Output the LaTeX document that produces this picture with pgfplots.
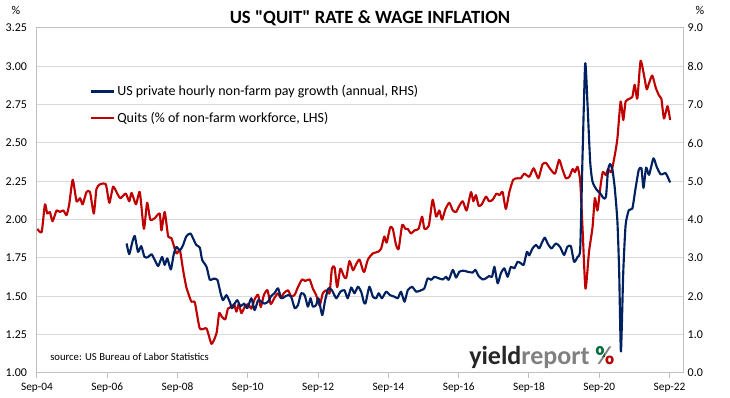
\documentclass[border=0pt]{standalone}
\usepackage{pgfplots}
\pgfplotsset{compat=1.18}
\usepackage{fontspec}
\setmainfont{Carlito}
\newfontfamily\titlefont{Carlito}[Ligatures=TeXOff]
\definecolor{qred}{RGB}{192,0,0}
\definecolor{wblue}{RGB}{0,32,96}
\definecolor{gridc}{RGB}{217,217,217}
\definecolor{axc}{RGB}{191,191,191}
\definecolor{logoblk}{RGB}{38,38,38}
\definecolor{logogray}{RGB}{128,128,128}
\definecolor{logogreen}{RGB}{0,112,60}
\begin{document}
\begin{tikzpicture}[x=1pt,y=1pt]
\path[use as bounding box] (0,0) rectangle (547.5,298.5);
\pgfplotsset{
  base/.style={scale only axis, width=484.5pt, height=258.75pt,
    at={(27.75pt,18.75pt)}, anchor=south west, xmin=0, xmax=220.6,
    /pgf/number format/assume math mode=true,
    ticklabel style={font=\fontsize{9}{10}\selectfont, text=black},
    axis line style={axc, line width=0.75pt}},
}
\begin{axis}[base,
  ymin=1, ymax=3.25,
  ytick={1,1.25,1.5,1.75,2,2.25,2.5,2.75,3,3.25},
  yticklabel style={/pgf/number format/fixed,/pgf/number format/fixed zerofill,/pgf/number format/precision=2},
  ymajorgrids, major grid style={gridc, line width=0.75pt},
  xtick={0,24,48,72,96,120,144,168,192,216},
  xticklabels={Sep-04,Sep-06,Sep-08,Sep-10,Sep-12,Sep-14,Sep-16,Sep-18,Sep-20,Sep-22},
  xtick pos=bottom, ytick pos=left, tick align=outside,
  ytick style={draw=none}, xtick style={axc, line width=0.75pt}, major tick length=4pt,
  xticklabel style={font=\fontsize{8.5}{10}\selectfont},
]
\addplot[qred, line width=1.6pt, line join=round, smooth, tension=0.35] coordinates {
(0.1,1.94)(1.6,1.92)(2.7,2.10)(3.5,2.04)(4.4,2.05)(5.3,1.99)(6.7,2.06)(7.8,2.05)(9.0,2.06)(10.1,2.03)
(11.0,2.10)(12.2,2.26)(13.5,2.12)(14.7,2.14)(15.6,2.10)(16.9,2.18)(18.1,2.18)(19.4,2.04)(20.3,2.20)
(21.5,2.23)(23.5,2.23)(24.7,2.11)(26.0,2.215)(27.4,2.17)(28.5,2.14)(30.3,2.17)(31.5,2.12)(32.3,2.175)
(33.8,2.10)(35.1,2.18)(36.5,1.94)(37.6,2.11)(38.7,2.00)(40.2,2.01)(41.9,2.04)(42.5,1.93)(43.6,2.05)
(44.8,1.89)(45.9,1.88)(47.6,1.78)(48.8,1.80)(49.9,1.67)(51.0,1.56)(52.7,1.465)(53.9,1.46)(55.6,1.29)
(57.9,1.29)(59.6,1.19)(61.3,1.26)(62.2,1.39)(63.0,1.37)(64.3,1.35)(65.2,1.42)(66.4,1.43)(67.3,1.45)
(68.1,1.40)(68.9,1.45)(69.8,1.39)(70.9,1.43)(72.1,1.45)(73.2,1.42)(74.3,1.48)(75.5,1.51)(76.4,1.43)
(77.5,1.51)(78.7,1.54)(79.8,1.45)(81.1,1.49)(82.3,1.52)(83.2,1.49)(84.3,1.52)(85.7,1.54)(86.8,1.50)
(88.0,1.51)(89.1,1.56)(90.5,1.61)(91.6,1.60)(93.1,1.61)(94.2,1.55)(95.3,1.51)(96.5,1.44)(97.6,1.52)
(98.8,1.54)(99.9,1.52)(100.7,1.68)(101.6,1.69)(102.5,1.56)(103.6,1.68)(104.8,1.63)(105.6,1.62)
(106.7,1.73)(107.9,1.67)(109.0,1.71)(110.1,1.74)(111.3,1.67)(111.8,1.66)(113.0,1.74)(114.7,1.78)
(116.4,1.79)(117.5,1.81)(118.6,1.89)(119.4,1.85)(120.6,1.95)(121.5,1.94)(122.6,1.835)(123.5,1.81)
(124.7,1.965)(125.8,1.94)(126.6,1.94)(127.7,1.91)(128.9,1.93)(130.3,1.94)(131.5,2.02)(132.3,1.94)
(133.8,1.96)(135.1,2.13)(136.3,2.02)(137.4,2.06)(138.3,2.00)(139.5,2.07)(140.8,2.11)(142.0,2.06)
(143.1,2.05)(144.2,2.09)(145.4,2.12)(146.7,2.06)(148.2,2.18)(149.0,2.12)(149.9,2.16)(150.8,2.09)
(151.9,2.10)(153.3,2.15)(154.4,2.12)(155.6,2.13)(156.9,2.17)(157.9,2.16)(159.0,2.18)(160.1,2.07)
(161.3,2.18)(162.6,2.26)(164.1,2.27)(165.2,2.27)(166.4,2.30)(168.1,2.28)(169.6,2.335)(171.2,2.27)
(172.6,2.36)(173.8,2.37)(175.3,2.33)(176.9,2.30)(178.3,2.39)(179.4,2.33)(180.6,2.27)(181.8,2.28)
(182.9,2.33)(183.7,2.31)(184.6,2.345)(185.5,2.25)(186.3,1.94)(187.3,1.55)(188.5,1.79)(189.7,1.95)
(190.5,2.14)(191.4,2.06)(192.3,2.20)(193.2,2.31)(194.3,2.29)(195.0,2.33)(196.1,2.31)(197.3,2.42)
(198.2,2.53)(199.3,2.77)(200.2,2.65)(201.0,2.77)(202.5,2.79)(203.3,2.80)(204.1,2.88)(205.0,2.79)
(206.1,3.035)(207.3,2.94)(208.2,2.85)(209.0,2.89)(210.1,2.94)(211.3,2.86)(212.4,2.81)(213.2,2.79)
(214.1,2.66)(215.3,2.74)(216.2,2.65)
};
\end{axis}
\begin{axis}[base,
  ymin=0, ymax=9, axis y line*=right, axis x line=none,
  ytick={0,1,2,3,4,5,6,7,8,9},
  yticklabel style={/pgf/number format/fixed,/pgf/number format/fixed zerofill,/pgf/number format/precision=1},
  ytick style={draw=none},
  legend style={at={(0.075,0.85)}, anchor=north west, draw=none, fill=none,
    font=\fontsize{10.5}{12}\selectfont, row sep=7pt},
  legend cell align=left,
]
\addplot[wblue, line width=1.6pt, line join=round, smooth, tension=0.35] coordinates {
(30.6,3.38)(31.5,3.10)(32.6,3.43)(33.4,3.57)(34.5,3.16)(35.6,3.31)(36.7,3.03)(37.9,3.02)(39.1,3.10)
(40.2,2.95)(41.4,2.79)(42.7,3.03)(43.6,2.82)(44.5,2.99)(45.7,2.70)(46.7,3.10)(47.6,3.29)(48.8,3.20)
(49.9,3.34)(51.0,3.57)(52.4,3.64)(53.3,3.51)(54.4,3.34)(55.6,3.27)(56.4,2.95)(57.9,2.77)(59.0,2.43)
(60.2,2.46)(61.6,2.43)(62.7,2.08)(63.5,1.90)(64.7,2.03)(65.8,1.86)(66.6,1.69)(67.5,1.81)(68.4,1.90)
(69.5,1.74)(70.7,1.81)(71.8,1.69)(73.2,1.95)(74.3,1.64)(75.5,1.90)(76.6,1.86)(77.7,1.81)(78.9,1.86)
(80.0,2.01)(81.1,2.08)(82.3,2.21)(83.4,1.95)(84.6,1.99)(85.7,2.03)(86.8,1.99)(88.0,1.69)(89.1,1.77)
(90.2,2.08)(91.4,2.03)(92.5,1.73)(93.4,1.95)(94.2,1.73)(95.3,1.77)(96.1,1.95)(97.4,1.51)(98.4,1.90)
(99.5,2.21)(100.7,2.16)(102.2,1.95)(103.6,2.12)(105.0,2.16)(106.1,1.95)(107.3,2.23)(108.4,2.08)
(109.6,2.25)(110.7,2.12)(111.6,1.85)(112.2,1.82)(113.5,2.25)(114.7,1.99)(115.8,1.95)(116.7,2.08)
(117.8,1.95)(119.2,2.12)(120.6,2.03)(122.1,1.99)(123.2,1.95)(124.3,2.12)(125.5,1.86)(126.6,2.16)
(128.1,2.25)(129.5,2.12)(131.2,2.16)(132.3,2.21)(133.4,2.47)(134.6,2.43)(135.7,2.51)(137.2,2.47)
(138.6,2.44)(139.7,2.51)(140.6,2.43)(142.0,2.69)(143.1,2.49)(144.2,2.64)(145.6,2.67)(147.1,2.64)
(148.8,2.62)(149.7,2.69)(150.8,2.53)(152.2,2.44)(153.3,2.47)(154.4,2.53)(155.4,2.51)(156.2,2.77)
(157.3,2.34)(158.4,2.60)(159.6,2.73)(160.7,2.51)(161.8,2.77)(163.0,2.73)(164.1,2.90)(165.3,2.86)
(166.2,2.82)(167.3,3.16)(168.1,3.07)(169.2,3.25)(170.4,3.34)(171.5,3.25)(172.3,3.38)(173.4,3.53)
(174.5,3.36)(175.7,3.25)(177.2,3.38)(178.6,3.29)(180.0,3.08)(181.1,3.29)(182.3,3.31)(183.4,2.90)
(184.6,3.03)(185.5,3.25)(186.3,5.69)(187.2,8.08)(188.0,6.99)(188.9,5.51)(189.7,4.99)(191.2,4.77)
(192.3,4.69)(193.5,4.56)(194.3,4.60)(195.0,5.30)(195.7,5.45)(196.5,5.30)(197.3,4.82)(198.2,3.95)
(198.8,2.64)(199.4,0.56)(200.2,2.64)(201.0,3.86)(202.1,4.25)(203.3,4.29)(204.4,4.82)(205.5,5.30)
(206.4,5.34)(207.1,4.83)(208.0,5.36)(209.0,5.17)(210.5,5.60)(211.6,5.38)(213.0,5.18)(214.7,5.21)
(216.2,4.97)
};
\addlegendentry{US private hourly non-farm pay growth (annual, RHS)}
\addlegendimage{qred, line width=1.6pt}
\addlegendentry{Quits (\% of non-farm workforce, LHS)}
\end{axis}
\node[font=\titlefont\bfseries\fontsize{14}{16}\selectfont] at (277.5,284.5) {US "QUIT" RATE \& WAGE INFLATION};
\node[font=\fontsize{9}{10}\selectfont] at (12,291) {\%};
\node[font=\fontsize{9}{10}\selectfont] at (525,291) {\%};
\node[anchor=base west, inner sep=0, font=\fontsize{8}{9}\selectfont] at (37.5,27.75) {source: US Bureau of Labor Statistics};
\node[anchor=base west, inner sep=0, font=\bfseries\fontsize{19.5}{20}\selectfont] (logo) at (351.75,24.75) {\textcolor{logoblk}{yield}\textcolor{logogray}{report}};
\node[anchor=base west, inner sep=0, font=\bfseries\fontsize{19.5}{20}\selectfont] (pc) at ([xshift=4pt]logo.base east) {\textcolor{logogray}{\%}};
\begin{scope}
\clip (pc.north west) rectangle (pc.center);
\node[anchor=base west, inner sep=0, font=\bfseries\fontsize{19.5}{20}\selectfont] at (pc.base west) {\textcolor{logogreen}{\%}};
\end{scope}
\begin{scope}
\clip (pc.center) rectangle (pc.south east);
\node[anchor=base west, inner sep=0, font=\bfseries\fontsize{19.5}{20}\selectfont] at (pc.base west) {\textcolor{qred}{\%}};
\end{scope}
\end{tikzpicture}
\end{document}
